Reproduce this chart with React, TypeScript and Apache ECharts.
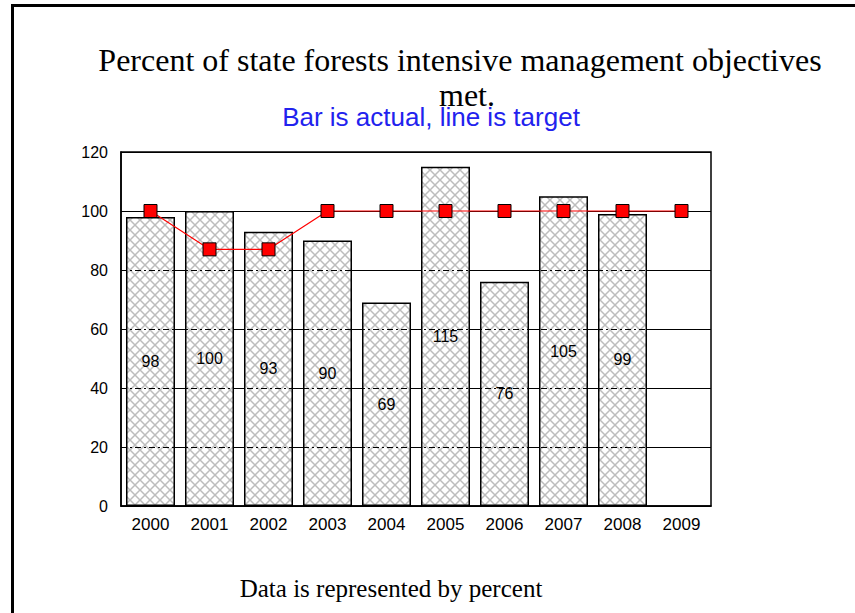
import React, { useEffect, useRef } from "react";
import * as echarts from "echarts";

const years = ["2000", "2001", "2002", "2003", "2004", "2005", "2006", "2007", "2008", "2009"];
const actual: (number | string)[] = [98, 100, 93, 90, 69, 115, 76, 105, 99, "-"];
const target = [100, 87, 87, 100, 100, 100, 100, 100, 100, 100];
const yTicks = { min: 0, max: 120, interval: 20 };
const dashLevels = [20, 40, 60, 80];

const titleLine1 = "Percent of state forests intensive management objectives";
const titleLine2 = "met.";
const subtitle = "Bar is actual, line is target";
const footer = "Data is represented by percent";

function makeHatch() {
  const c = document.createElement("canvas");
  c.width = 10;
  c.height = 10;
  const ctx = c.getContext("2d")!;
  ctx.fillStyle = "#ffffff";
  ctx.fillRect(0, 0, 10, 10);
  ctx.strokeStyle = "#bdbdbd";
  ctx.lineWidth = 1.5;
  ctx.beginPath();
  ctx.moveTo(-1, -1);
  ctx.lineTo(11, 11);
  ctx.moveTo(11, -1);
  ctx.lineTo(-1, 11);
  ctx.stroke();
  return c.toDataURL();
}

export default function App() {
  const ref = useRef<HTMLDivElement>(null);
  useEffect(() => {
    if (!ref.current) return;
    const chart = echarts.init(ref.current, null, { renderer: "svg" });
    const hatch = makeHatch();
    const sans = "'Liberation Sans', Arial, sans-serif";
    const serif = "'Liberation Serif', 'Times New Roman', serif";
    chart.setOption({
      animation: false,
      backgroundColor: "#ffffff",
      grid: {
        left: 121,
        top: 152,
        right: 144,
        bottom: 107,
        show: true,
        borderColor: "#000",
        borderWidth: 1.5,
        containLabel: false,
      },
      xAxis: {
        type: "category",
        data: years,
        boundaryGap: true,
        axisLine: { show: true, lineStyle: { color: "#000", width: 1.5 } },
        axisTick: { show: false },
        axisLabel: { color: "#000", fontSize: 17, fontFamily: sans, margin: 10 },
        splitLine: { show: false },
      },
      yAxis: {
        type: "value",
        min: yTicks.min,
        max: yTicks.max,
        interval: yTicks.interval,
        axisLine: { show: true, lineStyle: { color: "#000", width: 1.5 } },
        axisTick: { show: false },
        axisLabel: { color: "#000", fontSize: 16, fontFamily: sans, margin: 13 },
        splitLine: { show: true, lineStyle: { color: "#000", width: 1.2, type: "solid" } },
      },
      series: [
        {
          type: "bar",
          data: actual,
          barWidth: 49,
          silent: true,
          itemStyle: {
            color: { image: hatch, repeat: "repeat", imageWidth: 10, imageHeight: 10 },
            borderColor: "#000",
            borderWidth: 1.5,
          },
          label: {
            show: true,
            position: "inside",
            color: "#000",
            fontSize: 16,
            fontFamily: sans,
          },
          markLine: {
            silent: true,
            symbol: ["none", "none"],
            label: { show: false },
            lineStyle: { color: "#000", width: 1.2, type: [6, 3, 2, 3] },
            data: dashLevels.map((v) => ({ yAxis: v })),
          },
        },
        {
          type: "line",
          data: target,
          silent: true,
          symbol: "rect",
          symbolSize: 13,
          lineStyle: { color: "#ff0000", width: 1.2 },
          itemStyle: { color: "#ff0000", borderColor: "#000", borderWidth: 1 },
          z: 5,
        },
      ],
      graphic: [
        { type: "rect", shape: { x: 11, y: 4, width: 3, height: 620 }, style: { fill: "#000" }, silent: true },
        { type: "rect", shape: { x: 11, y: 4, width: 860, height: 3 }, style: { fill: "#000" }, silent: true },
        {
          type: "text",
          x: 460,
          y: 60,
          style: { text: titleLine1, font: `32px ${serif}`, fill: "#000", textAlign: "center", textVerticalAlign: "middle" },
        },
        {
          type: "text",
          x: 467,
          y: 95,
          style: { text: titleLine2, font: `32px ${serif}`, fill: "#000", textAlign: "center", textVerticalAlign: "middle" },
        },
        {
          type: "text",
          x: 431,
          y: 117,
          style: { text: subtitle, font: `26px ${sans}`, fill: "#2222ee", textAlign: "center", textVerticalAlign: "middle" },
        },
        {
          type: "text",
          x: 391,
          y: 588,
          style: { text: footer, font: `25px ${serif}`, fill: "#000", textAlign: "center", textVerticalAlign: "middle" },
        },
      ],
    });
    return () => chart.dispose();
  }, []);
  return (
    <div
      ref={ref}
      style={{ position: "absolute", left: 0, top: 0, width: 855, height: 613 }}
    />
  );
}
